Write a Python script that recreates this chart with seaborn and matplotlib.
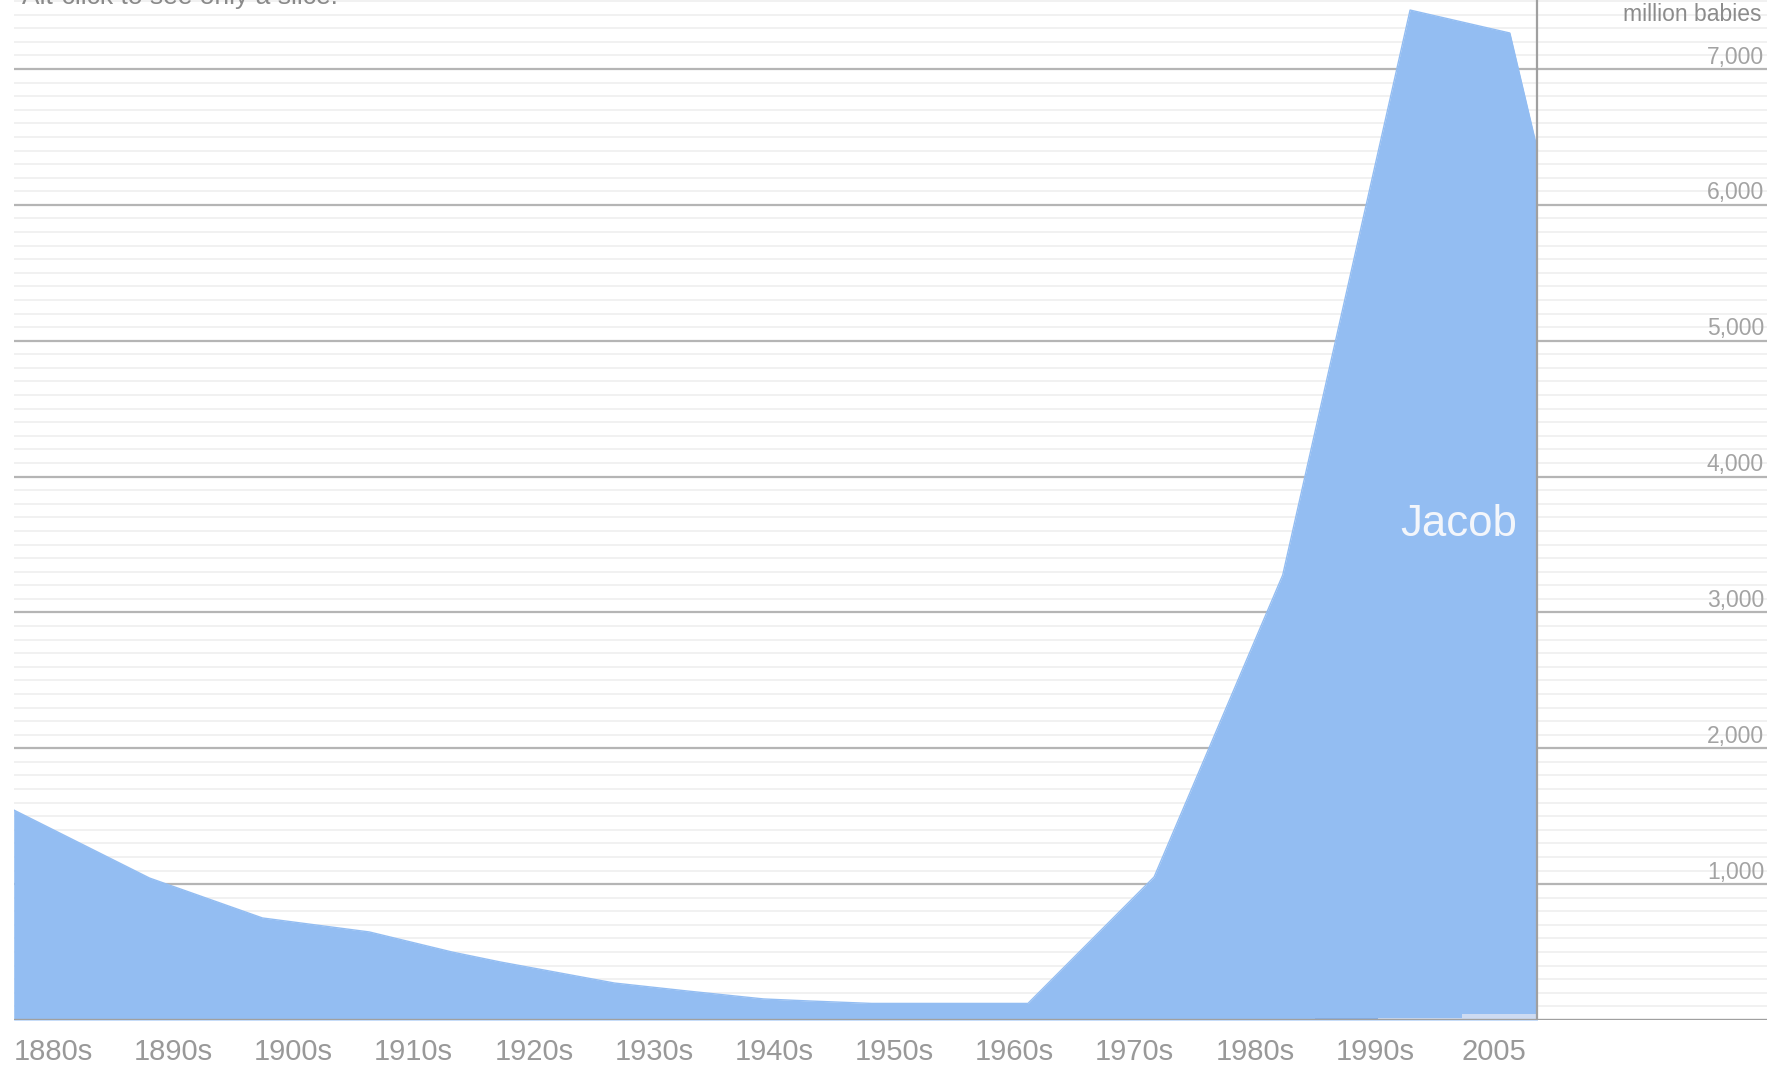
import numpy as np
import matplotlib
matplotlib.use('Agg')
import matplotlib.pyplot as plt
import matplotlib.transforms as mtransforms
import seaborn as sns

# Jacob, babies per million
years = [1880.0, 1891.3, 1900.7, 1909.6, 1916.5, 1920.5, 1930.0, 1936.1,
         1942.4, 1946.2, 1951.4, 1964.4, 1974.9, 1985.6, 1996.2, 2004.5, 2006.8]
jacob = [1546, 1045, 751, 648, 500, 427, 272, 213,
         155, 140, 122, 122, 1053, 3275, 7434, 7265, 6404]

# thin strips of other names at the bottom
other_years = [1988.3, 1993.5, 1993.5, 2000.5, 2000.5, 2006.8]
other_dark = [18, 18, 0, 0, 0, 0]
other_light = [0, 0, 16, 16, 44, 44]

tick_years = [1880, 1890, 1900, 1910, 1920, 1930, 1940, 1950, 1960, 1970, 1980, 1990, 2000.5]
tick_labels = ['1880s', '1890s', '1900s', '1910s', '1920s', '1930s', '1940s',
               '1950s', '1960s', '1970s', '1980s', '1990s', '2005']
y_major = [1000, 2000, 3000, 4000, 5000, 6000, 7000]
y_labels = ['1,000', '2,000', '3,000', '4,000', '5,000', '6,000', '7,000']

sns.set_style('white')
plt.rcParams['font.family'] = ['Liberation Sans', 'DejaVu Sans']

fig = plt.figure(figsize=(17.87, 10.71), dpi=100)
ax = fig.add_axes([13.7 / 1787, 51 / 1071, 1753.3 / 1787, 1020 / 1071])
ax.set_xlim(1880, 2025.9)
ax.set_ylim(0, 7508)
ax.axis('off')

# grid
for v in range(100, 7600, 100):
    if v % 1000:
        ax.axhline(v, color='#f0f0f0', lw=1.3, zorder=1)
for v in y_major:
    ax.axhline(v, color='#b5b5b5', lw=1.6, zorder=1)

blue = '#93bdf2'
ax.fill_between(years, jacob, 0, color=blue, lw=0, zorder=2)
sns.lineplot(x=years, y=jacob, color=blue, lw=1, ax=ax, zorder=2)
ax.fill_between(other_years, other_dark, 0, color='#86aee4', lw=0, zorder=3)
ax.fill_between(other_years, other_light, 0, color='#cddbf2', lw=0, zorder=3)

ax.axhline(0, color='#a0a0a0', lw=2.4, zorder=4)
ax.axvline(years[-1], color='#a0a0a0', lw=1.6, zorder=4)

# hint line, cut off by the top edge
fig.text(22 / 1787, 1 - 4 / 1071, 'Alt-click to see only a slice.', ha='left',
         va='baseline', fontsize=19, color='#8a8a8a')

# y labels on the right, sitting above the major lines
ytr = mtransforms.blended_transform_factory(ax.transAxes, ax.transData)
for v, lab in zip(y_major, y_labels):
    ax.text(0.9983, v + 40, lab, transform=ytr, ha='right', va='baseline',
            fontsize=16.5, color='#a3a3a3')
ax.text(0.9971, 0.986, 'million babies', transform=ax.transAxes, ha='right',
        va='center', fontsize=16.5, color='#8c8c8c')

# x labels, left aligned at their positions
xtr = mtransforms.blended_transform_factory(ax.transData, ax.transAxes)
for x, lab in zip(tick_years, tick_labels):
    ax.text(x, -0.031, lab, transform=xtr, ha='left', va='center',
            fontsize=21, color='#999999')

ax.text(2005.1, 3650, 'Jacob', ha='right', va='center', fontsize=31.5,
        color='#f3f6fb', zorder=5)

fig.savefig('out.png', dpi=100)
